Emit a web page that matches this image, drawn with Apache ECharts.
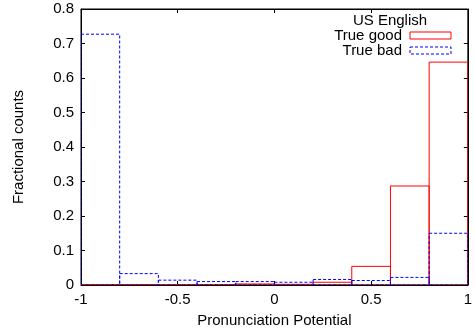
<!DOCTYPE html>
<html>
<head>
<meta charset="utf-8">
<script src="https://cdn.jsdelivr.net/npm/echarts@6/dist/echarts.min.js"></script>
<style>
  html, body { margin: 0; padding: 0; background: #fff; }
  #chart { width: 475px; height: 336px; }
</style>
</head>
<body>
<div id="chart"></div>
<script>
// bin start positions (width 0.2)
const binStarts = [-1, -0.8, -0.6, -0.4, -0.2, 0, 0.2, 0.4, 0.6, 0.8];
const binWidth = 0.2;
const trueGood = [0.001, 0.001, 0.001, 0.001, 0.003, 0.002, 0.008, 0.054, 0.287, 0.646];
const trueBad = [0.727, 0.033, 0.014, 0.01, 0.01, 0.008, 0.016, 0.013, 0.022, 0.15];
const xTicks = [-1, -0.5, 0, 0.5, 1];
const yTicks = [0, 0.1, 0.2, 0.3, 0.4, 0.5, 0.6, 0.7, 0.8];

const font = "Liberation Sans, Arial, sans-serif";
const fs = 15;
const chart = echarts.init(document.getElementById("chart"));

function boxes(color, dashed) {
  return function (params, api) {
    const x0 = api.value(0);
    const v = api.value(1);
    const p1 = api.coord([x0, v]);
    const p2 = api.coord([x0 + binWidth, 0]);
    return {
      type: "rect",
      shape: { x: p1[0], y: p1[1], width: p2[0] - p1[0], height: p2[1] - p1[1] },
      style: {
        fill: null,
        stroke: color,
        lineWidth: 1,
        lineDash: dashed ? [3, 2] : null,
      },
    };
  };
}

const axisCommon = {
  type: "value",
  axisLine: { show: true, onZero: false, lineStyle: { color: "#000", width: 1 } },
  axisTick: { show: true, inside: true, length: 4, lineStyle: { color: "#000" } },
  splitLine: { show: false },
};

const option = {
  animation: false,
  grid: { left: 81, right: 6, top: 9, bottom: 51, show: true, borderColor: "#000", borderWidth: 1 },
  xAxis: [
    {
      ...axisCommon,
      min: -1,
      max: 1,
      interval: 0.5,
      name: "Pronunciation Potential",
      nameLocation: "middle",
      nameGap: 28,
      nameTextStyle: { fontFamily: font, fontSize: fs, color: "#000" },
      axisLabel: { fontFamily: font, fontSize: fs, color: "#000", margin: 7,
        customValues: xTicks },
    },
    {
      ...axisCommon,
      position: "top",
      min: -1,
      max: 1,
      interval: 0.5,
      axisLabel: { show: false },
    },
  ],
  yAxis: [
    {
      ...axisCommon,
      min: 0,
      max: 0.8,
      interval: 0.1,
      name: "Fractional counts",
      nameLocation: "middle",
      nameGap: 55,
      nameTextStyle: { fontFamily: font, fontSize: fs, color: "#000" },
      axisLabel: { fontFamily: font, fontSize: fs, color: "#000", margin: 7,
        formatter: (v) => String(Math.round(v * 10) / 10) },
    },
    {
      ...axisCommon,
      position: "right",
      min: 0,
      max: 0.8,
      interval: 0.1,
      axisLabel: { show: false },
    },
  ],
  graphic: [
    { type: "text", x: 390, y: 13, style: { text: "US English", font: fs + "px " + font, fill: "#000", align: "center" } },
    { type: "text", x: 402, y: 28, style: { text: "True good", font: fs + "px " + font, fill: "#000", align: "right" } },
    { type: "rect", shape: { x: 410, y: 32, width: 41, height: 7 }, style: { fill: null, stroke: "#ff0000", lineWidth: 1 } },
    { type: "text", x: 402, y: 43, style: { text: "True bad", font: fs + "px " + font, fill: "#000", align: "right" } },
    { type: "rect", shape: { x: 410, y: 47, width: 41, height: 7 }, style: { fill: null, stroke: "#0000ff", lineWidth: 1, lineDash: [3, 2] } },
  ],
  series: [
    {
      name: "True good",
      type: "custom",
      renderItem: boxes("#ff0000", false),
      data: binStarts.map((x, i) => [x, trueGood[i]]),
      clip: true,
    },
    {
      name: "True bad",
      type: "custom",
      renderItem: boxes("#0000ff", true),
      data: binStarts.map((x, i) => [x, trueBad[i]]),
      clip: true,
    },
  ],
};

chart.setOption(option);
</script>
</body>
</html>
